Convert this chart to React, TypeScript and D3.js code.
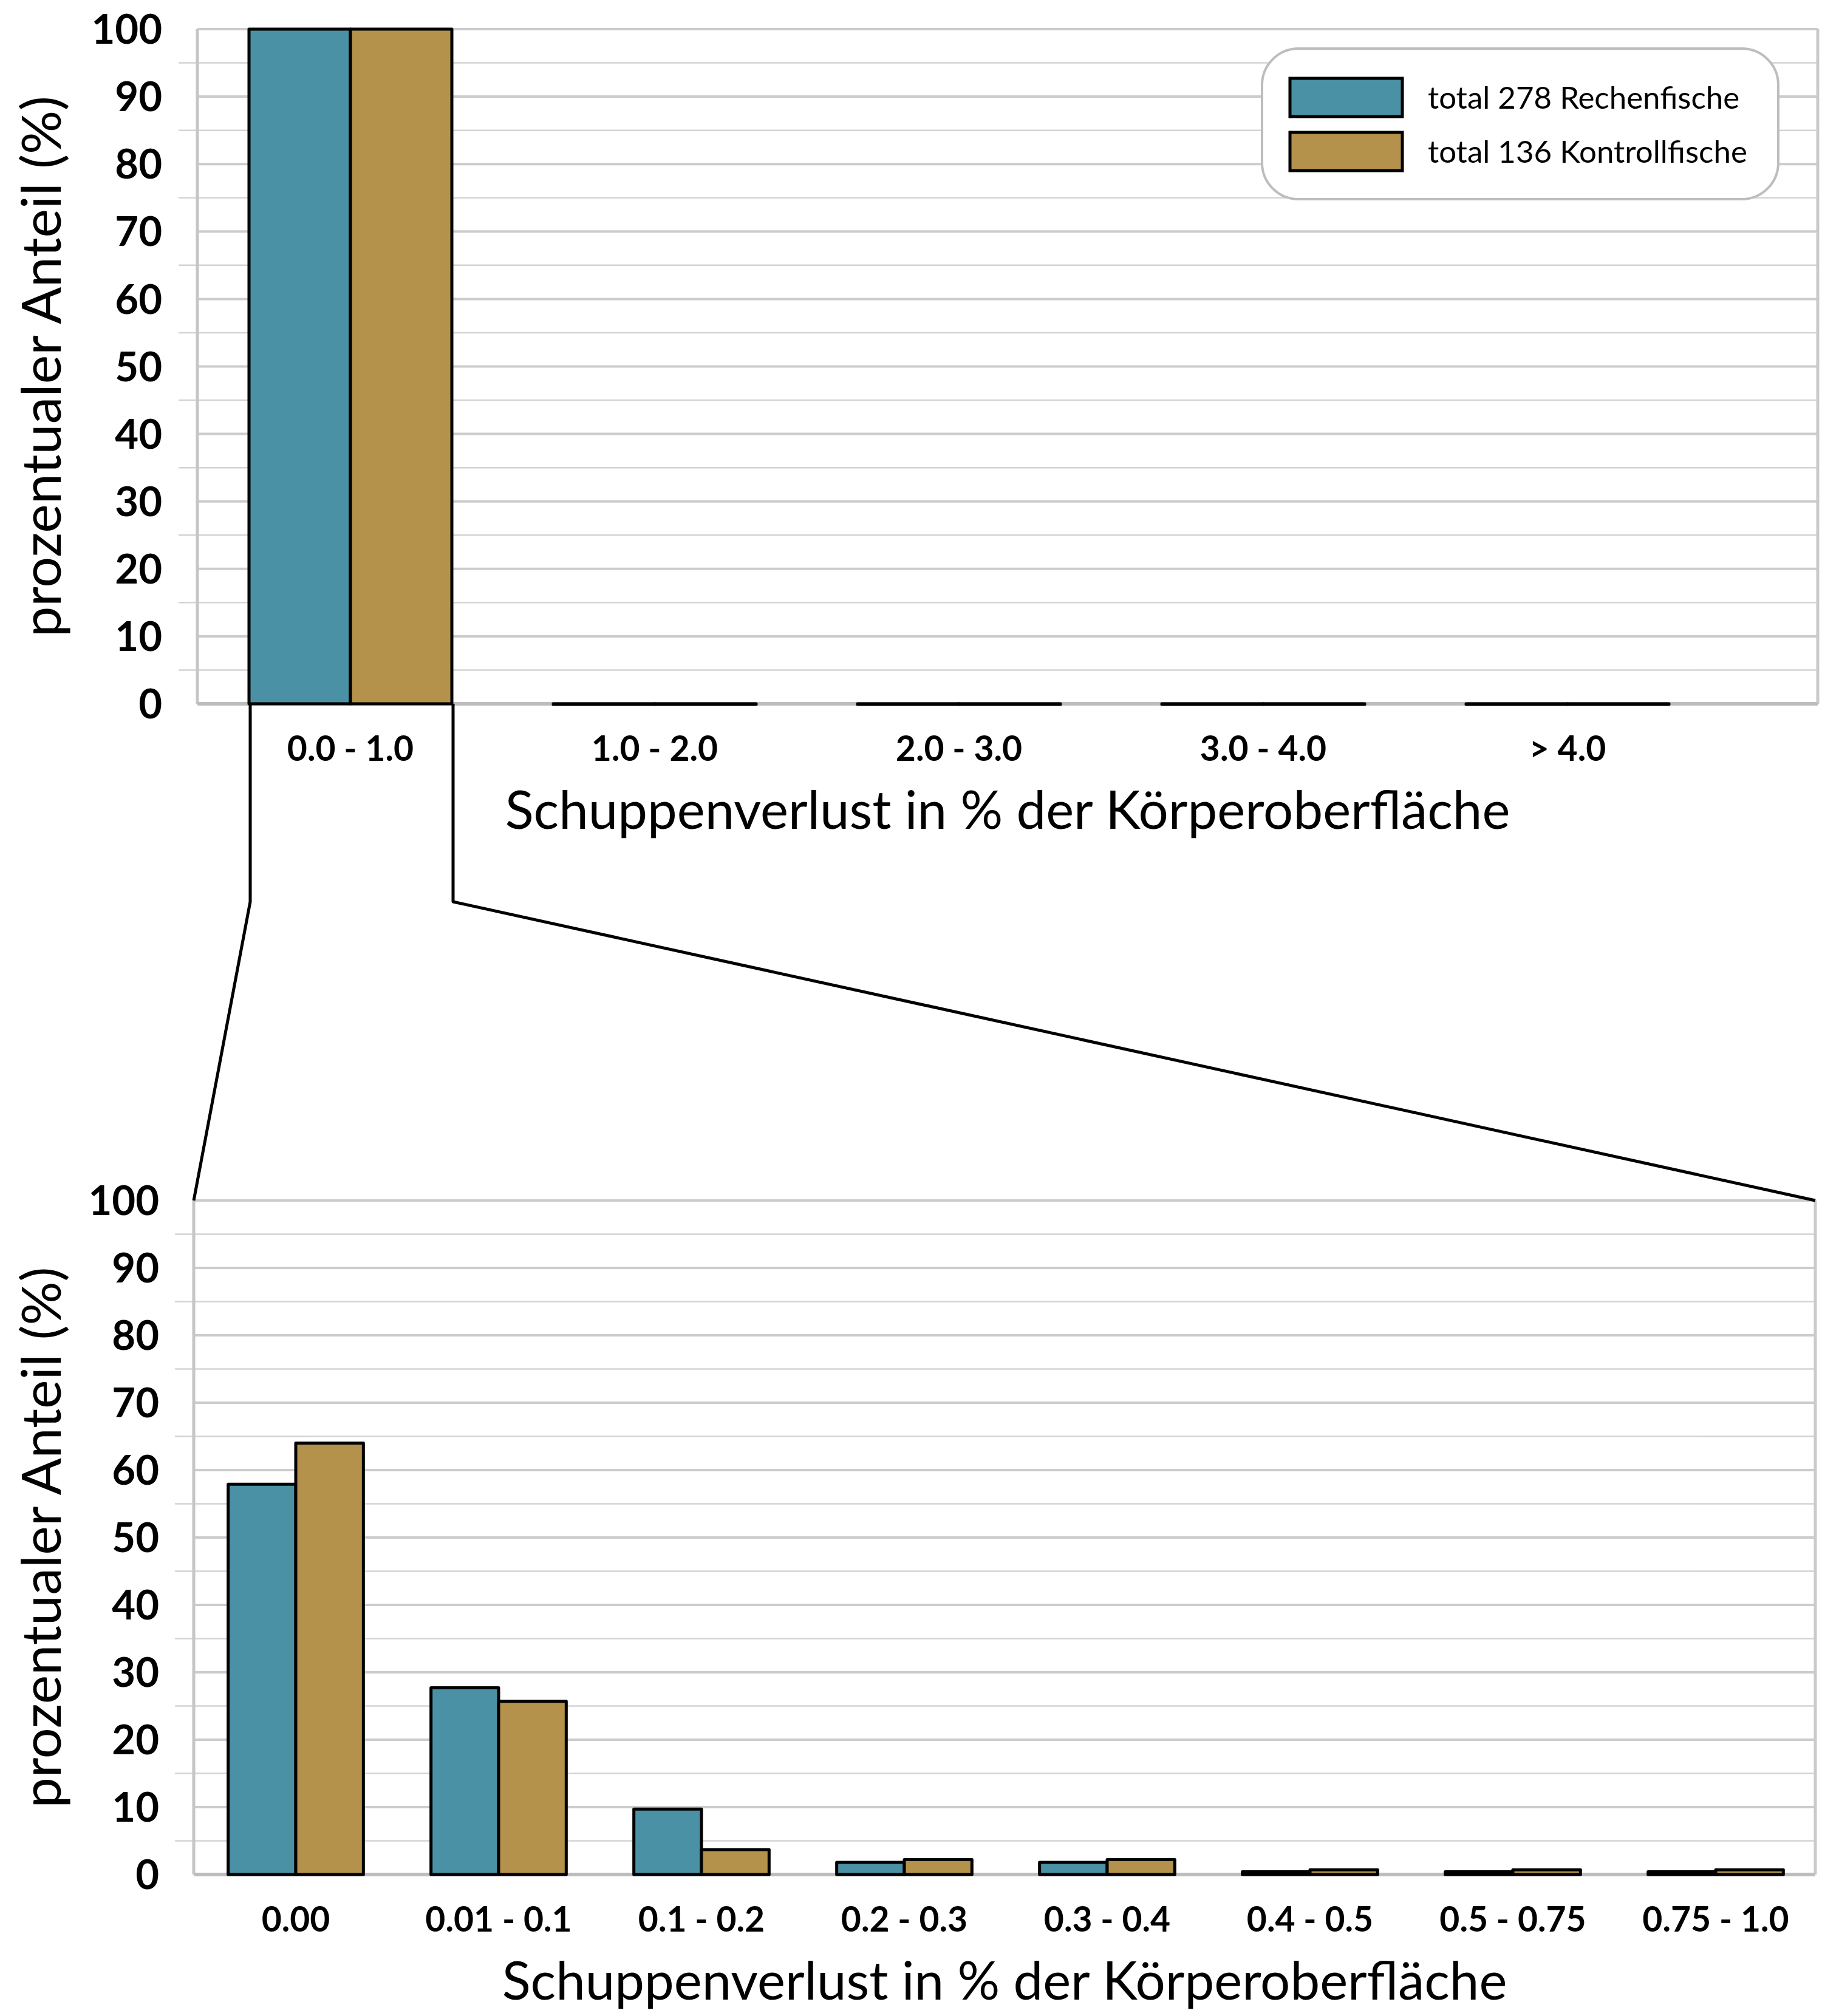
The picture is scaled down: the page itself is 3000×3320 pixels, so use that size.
import * as d3 from "d3";

const topCategories = ["0.0 - 1.0", "1.0 - 2.0", "2.0 - 3.0", "3.0 - 4.0", "> 4.0"];
const topRechen = [100, 0, 0, 0, 0];
const topKontroll = [100, 0, 0, 0, 0];

const bottomCategories = [
  "0.00",
  "0.01 - 0.1",
  "0.1 - 0.2",
  "0.2 - 0.3",
  "0.3 - 0.4",
  "0.4 - 0.5",
  "0.5 - 0.75",
  "0.75 - 1.0",
];
const bottomRechen = [57.9, 27.7, 9.7, 1.8, 1.8, 0.4, 0.4, 0.4];
const bottomKontroll = [64.0, 25.7, 3.7, 2.2, 2.2, 0.7, 0.7, 0.7];

const seriesNames = ["total 278 Rechenfische", "total 136 Kontrollfische"];
const seriesColors = ["#4a91a5", "#b4924b"];
const majorTicks = [0, 10, 20, 30, 40, 50, 60, 70, 80, 90, 100];
const minorTicks = [5, 15, 25, 35, 45, 55, 65, 75, 85, 95];

const yTitle = "prozentualer Anteil (%)";
const xTitle = "Schuppenverlust in % der Körperoberfläche";

const FONT = "Lato, 'Open Sans', sans-serif";

interface PanelProps {
  categories: string[];
  series: number[][];
  left: number;
  right: number;
  top: number;
  zero: number;
  bandRange: [number, number];
  labelRight: number;
}

function panelScales(p: PanelProps) {
  const y = d3.scaleLinear().domain([0, 100]).range([p.zero, p.top]);
  const x0 = d3
    .scaleBand<string>()
    .domain(p.categories)
    .range(p.bandRange)
    .paddingInner(1 / 3)
    .paddingOuter(1 / 6);
  const x1 = d3
    .scaleBand<number>()
    .domain(d3.range(p.series.length))
    .range([0, x0.bandwidth()]);
  return { y, x0, x1 };
}

function Panel(p: PanelProps) {
  const { y, x0, x1 } = panelScales(p);
  const midX = (p.left + p.right) / 2;
  return (
    <g>
      {/* minor grid with ticks */}
      {minorTicks.map((t) => (
        <line
          key={"mi" + t}
          x1={p.left - 30}
          x2={p.right}
          y1={y(t)}
          y2={y(t)}
          stroke="#d4d4d4"
          strokeWidth={2.5}
          strokeLinecap="round"
        />
      ))}
      {majorTicks
        .filter((t) => t > 0)
        .map((t) => (
          <line
            key={"ma" + t}
            x1={p.left}
            x2={p.right}
            y1={y(t)}
            y2={y(t)}
            stroke="#cccccc"
            strokeWidth={4}
          />
        ))}
      <line x1={p.left} x2={p.left} y1={p.top} y2={p.zero} stroke="#c6c6c6" strokeWidth={5} />
      <line x1={p.right} x2={p.right} y1={p.top} y2={p.zero} stroke="#cacaca" strokeWidth={5} />
      <line x1={p.left} x2={p.right} y1={p.zero} y2={p.zero} stroke="#bdbdbd" strokeWidth={6} />

      {/* bars */}
      {p.categories.map((c, i) => (
        <g key={c} transform={`translate(${x0(c)},0)`}>
          {p.series.map((s, si) => {
            const h = p.zero - y(s[i]);
            return (
              <rect
                key={si}
                x={x1(si)}
                y={y(s[i])}
                width={x1.bandwidth()}
                height={Math.max(h, 1)}
                fill={seriesColors[si]}
                stroke="#000"
                strokeWidth={5}
                strokeLinejoin="round"
              />
            );
          })}
        </g>
      ))}

      {/* y tick labels */}
      {majorTicks.map((t) => (
        <text
          key={"yl" + t}
          x={p.labelRight}
          y={y(t)}
          dy="0.36em"
          textAnchor="end"
          fontFamily={FONT}
          fontWeight={700}
          fontSize={67}
          fill="#000"
        >
          {t}
        </text>
      ))}

      {/* x tick labels */}
      {p.categories.map((c) => (
        <text
          key={"xl" + c}
          x={(x0(c) ?? 0) + x0.bandwidth() / 2}
          y={p.zero + 94}
          textAnchor="middle"
          fontFamily={FONT}
          fontWeight={700}
          fontSize={57}
          fill="#000"
        >
          {c}
        </text>
      ))}

      <text
        x={midX}
        y={p.zero + 206}
        textAnchor="middle"
        fontFamily={FONT}
        fontSize={87}
        fill="#000"
      >
        {xTitle}
      </text>
      <text
        transform={`translate(100,${(p.top + p.zero) / 2}) rotate(-90)`}
        textAnchor="middle"
        fontFamily={FONT}
        fontSize={90}
        fill="#000"
      >
        {yTitle}
      </text>
    </g>
  );
}

export default function App() {
  const topPanel: PanelProps = {
    categories: topCategories,
    series: [topRechen, topKontroll],
    left: 325,
    right: 2993,
    top: 48,
    zero: 1159,
    bandRange: [326.5, 2831.5],
    labelRight: 267,
  };
  const bottomPanel: PanelProps = {
    categories: bottomCategories,
    series: [bottomRechen, bottomKontroll],
    left: 319,
    right: 2989,
    top: 1977,
    zero: 3087,
    bandRange: [320, 2992],
    labelRight: 262,
  };

  const ts = panelScales(topPanel);
  const gLeft = ts.x0(topCategories[0]) ?? 0;
  const gRight = gLeft + ts.x0.bandwidth();
  const bendY = 1485;

  return (
    <svg
      width={3000}
      height={3320}
      viewBox="0 0 3000 3320"
      style={{ position: "absolute", left: 0, top: 0, background: "#fff" }}
    >
      <rect width={3000} height={3320} fill="#fff" />
      <Panel {...topPanel} />
      <Panel {...bottomPanel} />

      {/* zoom connector */}
      <path
        d={`M${gLeft + 2},${topPanel.zero} V${bendY} L${bottomPanel.left},${bottomPanel.top}`}
        fill="none"
        stroke="#000"
        strokeWidth={5}
        strokeLinejoin="round"
      />
      <path
        d={`M${gRight + 2},${topPanel.zero} V${bendY} L${bottomPanel.right},${bottomPanel.top}`}
        fill="none"
        stroke="#000"
        strokeWidth={5}
        strokeLinejoin="round"
      />

      {/* legend */}
      <g>
        <rect x={2078} y={80} width={850} height={248} rx={60} fill="#fff" stroke="#bdbdbd" strokeWidth={4} />
        {seriesNames.map((n, i) => (
          <g key={n}>
            <rect
              x={2124}
              y={129 + i * 89}
              width={185}
              height={63}
              fill={seriesColors[i]}
              stroke="#000"
              strokeWidth={5}
            />
            <text x={2351} y={179 + i * 89} fontFamily={FONT} fontSize={51} fill="#000">
              {n}
            </text>
          </g>
        ))}
      </g>
    </svg>
  );
}
